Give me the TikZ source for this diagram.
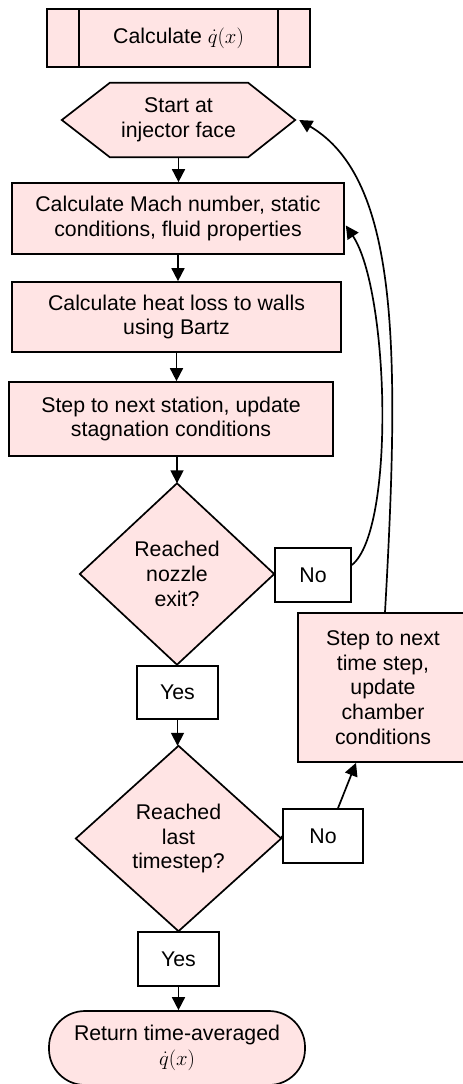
\documentclass[tikz,border=0pt]{standalone}
\usepackage{fontspec}
\setmainfont{Liberation Sans}
\usetikzlibrary{arrows.meta,calc,backgrounds}
\definecolor{pinkfill}{RGB}{255,228,228}
\begin{document}
\begin{tikzpicture}[x=1pt,y=-1pt,
  every node/.style={font=\fontsize{21.3}{24.8}\selectfont, align=center, inner sep=0pt},
  pinkbox/.style={draw, fill=pinkfill, line width=1.7pt},
  whitebox/.style={draw, fill=white, line width=1.7pt},
  arr/.style={line width=1.7pt, -{Triangle[length=13pt,width=13pt]}},
  link/.style={line width=1.7pt}]

\useasboundingbox (0,0) rectangle (463,1084);
\clip (0,0) rectangle (463,1084);

% predefined process
\node[pinkbox, minimum width=263pt, minimum height=58pt] (top) at (178.5,38) {Calculate $\dot q(x)$};
\draw[link] ($(top.north west)+(33,0)$) -- ($(top.south west)+(33,0)$);
\draw[link] ($(top.north east)+(-33,0)$) -- ($(top.south east)+(-33,0)$);

% hexagon
\node[minimum width=233pt, minimum height=74pt] (start) at (178.5,120) {Start at\\injector face};

\node[pinkbox, minimum width=332pt, minimum height=71pt] (mach) at (178,218.5) {Calculate Mach number, static\\conditions, fluid properties};
\node[pinkbox, minimum width=329pt, minimum height=70pt] (heat) at (176.5,317) {Calculate heat loss to walls\\using Bartz};
\node[pinkbox, minimum width=324pt, minimum height=74pt] (station) at (171,419) {Step to next station, update\\stagnation conditions};

\node[minimum width=194pt, minimum height=181pt] (nozzle) at (177,574) {Reached\\nozzle\\exit?};
\node[whitebox, minimum width=76pt, minimum height=54pt] (no1) at (313,575) {No};
\node[whitebox, minimum width=81pt, minimum height=53pt] (yes1) at (177.5,692.5) {Yes};

\node[pinkbox, minimum width=170pt, minimum height=149pt] (step) at (383,687.5) {Step to next\\time step,\\update\\chamber\\conditions};

\node[minimum width=205pt, minimum height=185pt] (last) at (178.5,838.5) {Reached\\last\\timestep?};
\node[whitebox, minimum width=80pt, minimum height=54pt] (no2) at (323,836) {No};
\node[whitebox, minimum width=81pt, minimum height=54pt] (yes2) at (178.5,959) {Yes};

\node[pinkbox, rounded corners=36pt, minimum width=256pt, minimum height=74pt] (term) at (177,1048) {Return time-averaged\\$\dot q(x)$};

\begin{scope}[on background layer]
\draw[pinkbox] (start.west) -- ($(start.north west)+(48,0)$) -- ($(start.north east)+(-47,0)$) -- (start.east) -- ($(start.south east)+(-47,0)$) -- ($(start.south west)+(48,0)$) -- cycle;
\draw[pinkbox] (nozzle.north) -- (nozzle.east) -- (nozzle.south) -- (nozzle.west) -- cycle;
\draw[pinkbox] (last.north) -- (last.east) -- (last.south) -- (last.west) -- cycle;
\end{scope}

% connectors
\draw[arr] (start.south) -- (start.south |- mach.north);
\draw[arr] (mach.south) -- (mach.south |- heat.north);
\draw[arr] (heat.south) -- (heat.south |- station.north);
\draw[arr] (station.south -| nozzle.north) -- (nozzle.north);
\draw[link] (nozzle.south) -- (yes1.north);
\draw[arr] (yes1.south) -- (yes1.south |- last.north);
\draw[link] (nozzle.east) -- (no1.west);
\draw[link] (last.east) -- (no2.west);
\draw[link] (last.south) -- (yes2.north);
\draw[arr] (yes2.south) -- (yes2.south |- term.north);
\draw[arr] ($(no2.north)+(15,0)$) -- ($(step.south)+(-27,0)$);
\draw[arr] ($(no1.east)+(0,-10)$) .. controls +(44,-35) and +(43,64) .. ($(mach.east)+(1,7)$);
\draw[arr] ($(step.north)+(2,0)$) .. controls +(15,-263) and +(100,59) .. ($(start.east)+(4,0)$);
\end{tikzpicture}
\end{document}
